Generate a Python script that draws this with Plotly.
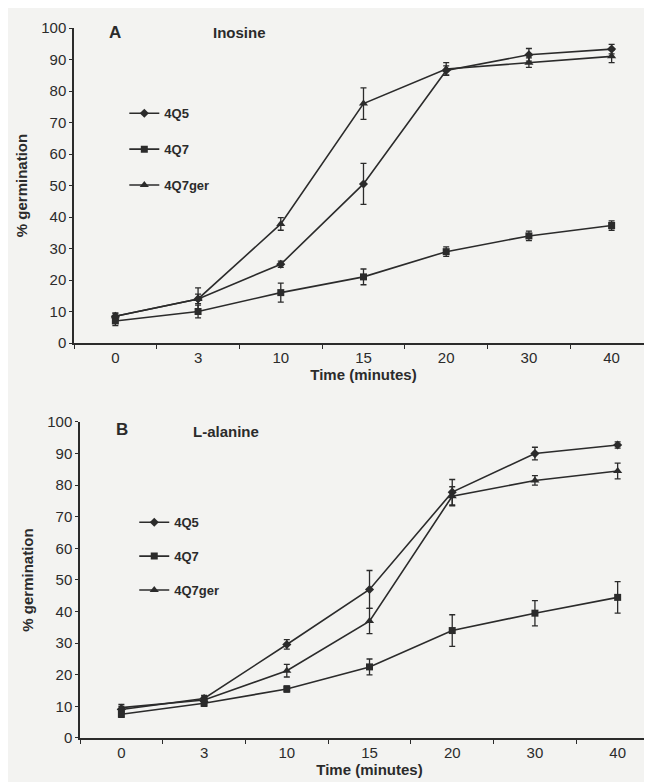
import plotly.graph_objects as go
from plotly.subplots import make_subplots

times = ["0", "3", "10", "15", "20", "30", "40"]

# Panel A - Inosine
a_4q5 = [8.5, 14.0, 25.0, 50.5, 86.5, 91.5, 93.3]
a_4q5_err = [1.0, 1.5, 1.0, 6.5, 1.5, 2.0, 1.5]
a_4q7 = [7.0, 10.0, 16.0, 21.0, 29.0, 34.0, 37.3]
a_4q7_err = [1.5, 2.0, 3.0, 2.5, 1.5, 1.5, 1.5]
a_4q7ger = [8.5, 14.0, 37.8, 76.0, 87.0, 89.0, 91.0]
a_4q7ger_err = [1.0, 3.5, 2.0, 5.0, 2.0, 1.5, 2.0]

# Panel B - L-alanine
b_4q5 = [9.0, 12.5, 29.6, 47.0, 77.8, 90.0, 92.7]
b_4q5_err = [1.0, 1.0, 1.5, 6.0, 4.0, 2.0, 1.0]
b_4q7 = [7.5, 11.0, 15.5, 22.5, 34.0, 39.5, 44.5]
b_4q7_err = [1.0, 1.0, 1.0, 2.5, 5.0, 4.0, 5.0]
b_4q7ger = [9.6, 12.0, 21.3, 37.0, 76.5, 81.5, 84.5]
b_4q7ger_err = [1.0, 1.0, 2.0, 4.0, 3.0, 1.5, 2.5]

series_names = ["4Q5", "4Q7", "4Q7ger"]
symbols = ["diamond", "square", "triangle-up"]
sizes = [7, 7, 8]

INK = "#2b2b2b"
BG = "#f3f3f1"
FONT = "Liberation Sans, Arial, sans-serif"

fig = make_subplots(rows=2, cols=1)

panels = [
    (1, [a_4q5, a_4q7, a_4q7ger], [a_4q5_err, a_4q7_err, a_4q7ger_err], "legend"),
    (2, [b_4q5, b_4q7, b_4q7ger], [b_4q5_err, b_4q7_err, b_4q7ger_err], "legend2"),
]

for row, vals, errs, leg in panels:
    for name, sym, sz, v, e in zip(series_names, symbols, sizes, vals, errs):
        fig.add_trace(
            go.Scatter(
                x=times, y=v, name=name, mode="lines+markers",
                line=dict(color=INK, width=1.6),
                marker=dict(symbol=sym, size=sz, color=INK),
                error_y=dict(type="data", array=e, visible=True,
                             color=INK, thickness=1.3, width=3),
                legend=leg, legendgroup=f"{leg}{name}",
            ),
            row=row, col=1,
        )

xaxis_common = dict(
    type="category", range=[-0.5, 6.5], showline=True, linecolor=INK,
    linewidth=1.5, ticks="outside", tickson="boundaries", ticklen=4,
    tickcolor=INK, showgrid=False, zeroline=False,
    tickfont=dict(family=FONT, size=15, color=INK),
    title=dict(text="<b>Time (minutes)</b>", standoff=3,
               font=dict(family=FONT, size=15, color=INK)),
)
yaxis_common = dict(
    range=[0, 100], dtick=10, showline=True, linecolor=INK, linewidth=1.5,
    ticks="outside", ticklen=3, tickcolor=INK, showgrid=False,
    zeroline=False, tickfont=dict(family=FONT, size=15, color=INK),
    title=dict(text="<b>% germination</b>", standoff=10,
               font=dict(family=FONT, size=15, color=INK)),
)

fig.update_layout(
    width=652, height=782,
    margin=dict(l=66, r=1, t=20, b=52),
    paper_bgcolor=BG, plot_bgcolor=BG,
    font=dict(family=FONT, color=INK),
    xaxis=dict(**xaxis_common, domain=[0, 0.9897]),
    yaxis=dict(**yaxis_common, domain=[0.5563, 1.0]),
    xaxis2=dict(**xaxis_common, domain=[0.0103, 1.0]),
    yaxis2=dict(**yaxis_common, domain=[0.0, 0.4451]),
    legend=dict(x=0.086, y=0.901, xanchor="left", yanchor="top",
                bgcolor="rgba(0,0,0,0)", tracegroupgap=16, itemwidth=30,
                font=dict(family=FONT, size=13, color=INK, weight="bold")),
    legend2=dict(x=0.103, y=0.325, xanchor="left", yanchor="top",
                 bgcolor="rgba(0,0,0,0)", tracegroupgap=14, itemwidth=30,
                 font=dict(family=FONT, size=13, color=INK, weight="bold")),
    annotations=[
        dict(text="<b>A</b>", x=0.056, y=0.993, xref="paper", yref="paper",
             xanchor="left", yanchor="middle", showarrow=False,
             font=dict(family=FONT, size=17, color=INK)),
        dict(text="<b>Inosine</b>", x=0.235, y=0.994, xref="paper", yref="paper",
             xanchor="left", yanchor="middle", showarrow=False,
             font=dict(family=FONT, size=15, color=INK)),
        dict(text="<b>B</b>", x=0.068, y=0.434, xref="paper", yref="paper",
             xanchor="left", yanchor="middle", showarrow=False,
             font=dict(family=FONT, size=17, color=INK)),
        dict(text="<b>L-alanine</b>", x=0.2, y=0.432, xref="paper", yref="paper",
             xanchor="left", yanchor="middle", showarrow=False,
             font=dict(family=FONT, size=15, color=INK)),
    ],
)

fig.write_html("out.html")
